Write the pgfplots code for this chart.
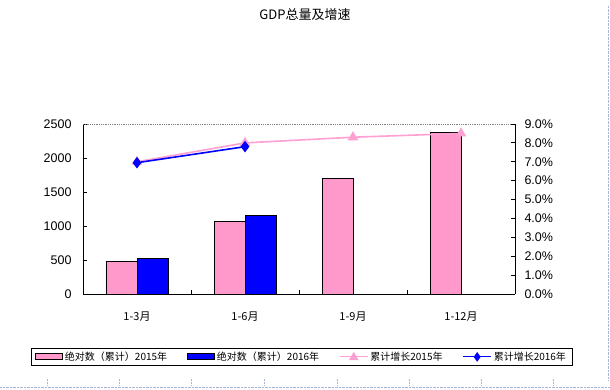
\documentclass[border=0pt]{standalone}
\usepackage{pgfplots}
\pgfplotsset{compat=1.18}
\usepackage{fontspec}
\setmainfont{Liberation Sans}
\newfontfamily\cjk{Noto Sans CJK SC}
\definecolor{pinkbar}{RGB}{255,153,204}
\definecolor{pinkline}{RGB}{255,160,210}
\definecolor{gridblue}{RGB}{170,180,220}
\begin{document}
\begin{tikzpicture}[x=1pt,y=1pt]
\path[use as bounding box] (0,0) rectangle (610,390);
\node[font=\cjk\fontsize{13}{15}\selectfont] at (305,375) {GDP总量及增速};
% spreadsheet cell grid remnants
\draw[gridblue, densely dotted] (0,3) -- (610,3);
\foreach \xx in {47,119,191,264,337,409,481,553} \draw[gridblue, densely dotted] (\xx,5) -- (\xx,12);
\draw[gridblue, densely dotted] (608,10) -- (608,385);
\begin{axis}[at={(83pt,96pt)}, anchor=south west, width=432pt, height=170pt, scale only axis,
  xmin=-0.5, xmax=3.5, ymin=0, ymax=2500, ytick={0,500,...,2500},
  axis x line*=bottom, axis y line*=left, axis line style={black, line width=0.9pt, -},
  ybar=0pt, bar width=31pt,
  xtick={0.5,1.5,2.5}, xticklabels={},
  extra x ticks={0,1,2,3}, extra x tick labels={1-3月,1-6月,1-9月,1-12月},
  extra x tick style={major tick length=0pt, tick label style={font=\cjk\fontsize{11}{13}\selectfont, yshift=-14pt}},
  tick align=inside, major tick length=4pt, tick style={black, line width=0.8pt},
  y tick label style={font=\fontsize{12.5}{14}\selectfont, xshift=-8pt},
  /pgf/number format/assume math mode=true, /pgf/number format/1000 sep={},
  scaled y ticks=false, clip=false]
\addplot[fill=pinkbar, draw=black, line width=0.8pt] coordinates {(0,475) (1,1063) (2,1701) (3,2378)};
\addplot[fill=blue, draw=black, line width=0.8pt] coordinates {(0,525) (1,1157)};
\draw[gray, densely dotted, line width=0.8pt] (rel axis cs:0,1) -- (rel axis cs:1,1);
\end{axis}
\begin{axis}[at={(83pt,96pt)}, anchor=south west, width=432pt, height=170pt, scale only axis,
  xmin=-0.5, xmax=3.5, ymin=0, ymax=9, ytick={0,...,9},
  axis x line=none, axis y line*=right, axis line style={black, line width=0.9pt, -},
  tick align=inside, major tick length=4pt, tick style={black, line width=0.8pt},
  yticklabel={\pgfmathprintnumber[fixed,fixed zerofill,precision=1]{\tick}\%},
  y tick label style={font=\fontsize{12.5}{14}\selectfont, xshift=6pt},
  /pgf/number format/assume math mode=true,
  legend columns=4,
  legend style={at={(0.506,-0.37)}, anchor=center, draw=black, line width=0.9pt,
    font=\cjk\fontsize{10}{11}\selectfont, inner xsep=4pt, inner ysep=1.5pt,
    /tikz/every even column/.append style={column sep=18pt}},
  legend cell align=left]
\addlegendimage{legend image code/.code={\draw[fill=pinkbar, draw=black, line width=0.8pt] (0pt,-3pt) rectangle (27pt,3pt);}}
\addlegendentry{绝对数（累计）2015年}
\addlegendimage{legend image code/.code={\draw[fill=blue, draw=black, line width=0.8pt] (0pt,-3pt) rectangle (27pt,3pt);}}
\addlegendentry{绝对数（累计）2016年}
\addplot[pinkline, line width=1.6pt, mark=triangle*, mark size=4.5pt,
  legend image code/.code={\draw[pinkline, line width=1.2pt] (0pt,0pt) -- (28pt,0pt); \fill[pinkline] (14pt,0pt) +(0,3.5pt) -- +(-3.5pt,-2.5pt) -- +(3.5pt,-2.5pt) -- cycle;}]
  coordinates {(0,7.0) (1,8.0) (2,8.3) (3,8.5)};
\addlegendentry{累计增长2015年}
\addplot[blue, line width=1.6pt, mark=diamond*, mark size=4.5pt,
  legend image code/.code={\draw[blue, line width=1.2pt] (0pt,0pt) -- (28pt,0pt); \fill[blue] (14pt,0pt) +(0,3.5pt) -- +(-2.5pt,0) -- +(0,-3.5pt) -- +(2.5pt,0) -- cycle;}]
  coordinates {(0,6.95) (1,7.8)};
\addlegendentry{累计增长2016年}
\end{axis}
\end{tikzpicture}
\end{document}
